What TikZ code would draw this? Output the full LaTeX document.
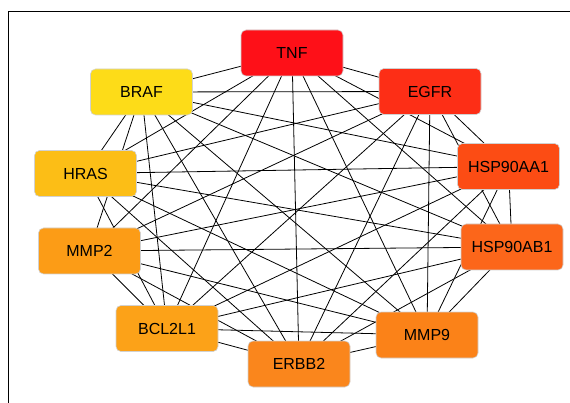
\documentclass[tikz,border=0pt]{standalone}
\usepackage{fontspec}
\setmainfont{Liberation Sans}
\usetikzlibrary{positioning, backgrounds}

\definecolor{tnfcol}{RGB}{254,16,24}
\definecolor{egfrcol}{RGB}{253,46,22}
\definecolor{hspaacol}{RGB}{252,76,20}
\definecolor{hspabcol}{RGB}{252,102,26}
\definecolor{mmpninecol}{RGB}{251,130,24}
\definecolor{erbbcol}{RGB}{250,134,28}
\definecolor{bclcol}{RGB}{252,162,24}
\definecolor{mmptwocol}{RGB}{252,156,22}
\definecolor{hrascol}{RGB}{252,190,22}
\definecolor{brafcol}{RGB}{253,220,24}

\begin{document}
\begin{tikzpicture}[x=1pt, y=-1pt]
  \tikzset{gene/.style={draw=black!18, line width=0.6pt, rounded corners=5pt, minimum width=102pt, minimum height=46pt, inner sep=0pt, font=\fontsize{16}{19}\selectfont}}
  \tikzset{link/.style={line width=0.8pt, black}}
  \tikzset{frame/.style={line width=1.6pt, black}}

  \useasboundingbox (0, 0) rectangle (570, 403);
  \draw[frame] (8.5, 410) -- (8.5, 11.5) -- (575, 11.5);

  % genes
  \node[gene, fill=tnfcol] at (292, 53) (tnf) {TNF};
  \node[gene, fill=egfrcol] at (430, 91.5) (egfr) {EGFR};
  \node[gene, fill=hspaacol] at (508.5, 166.5) (hsp90aa1) {HSP90AA1};
  \node[gene, fill=hspabcol] at (512, 247) (hsp90ab1) {HSP90AB1};
  \node[gene, fill=mmpninecol] at (427, 335) (mmp9) {MMP9};
  \node[gene, fill=erbbcol] at (299, 364) (erbb2) {ERBB2};
  \node[gene, fill=bclcol] at (167, 328.5) (bcl2l1) {BCL2L1};
  \node[gene, fill=mmptwocol] at (89.5, 251) (mmp2) {MMP2};
  \node[gene, fill=hrascol] at (85.5, 173.5) (hras) {HRAS};
  \node[gene, fill=brafcol] at (141.5, 92) (braf) {BRAF};

  % interactions, kept under the boxes
  \begin{scope}[on background layer]
    \foreach \src/\dst in {tnf/egfr, tnf/hsp90aa1, tnf/hsp90ab1, tnf/mmp9, tnf/erbb2,
        tnf/bcl2l1, tnf/mmp2, tnf/hras, tnf/braf,
        egfr/hsp90aa1, egfr/hsp90ab1, egfr/mmp9, egfr/erbb2, egfr/bcl2l1,
        egfr/mmp2, egfr/hras, egfr/braf,
        hsp90aa1/hsp90ab1, hsp90aa1/mmp9, hsp90aa1/erbb2, hsp90aa1/bcl2l1,
        hsp90aa1/mmp2, hsp90aa1/hras, hsp90aa1/braf,
        hsp90ab1/mmp9, hsp90ab1/erbb2, hsp90ab1/bcl2l1, hsp90ab1/mmp2,
        hsp90ab1/hras, hsp90ab1/braf,
        mmp9/erbb2, mmp9/bcl2l1, mmp9/mmp2, mmp9/hras, mmp9/braf,
        erbb2/bcl2l1, erbb2/mmp2, erbb2/hras, erbb2/braf,
        bcl2l1/mmp2, bcl2l1/hras, bcl2l1/braf,
        mmp2/braf, hras/braf}{
      \draw[link] (\src.center) -- (\dst.center);
    }
  \end{scope}
\end{tikzpicture}
\end{document}
